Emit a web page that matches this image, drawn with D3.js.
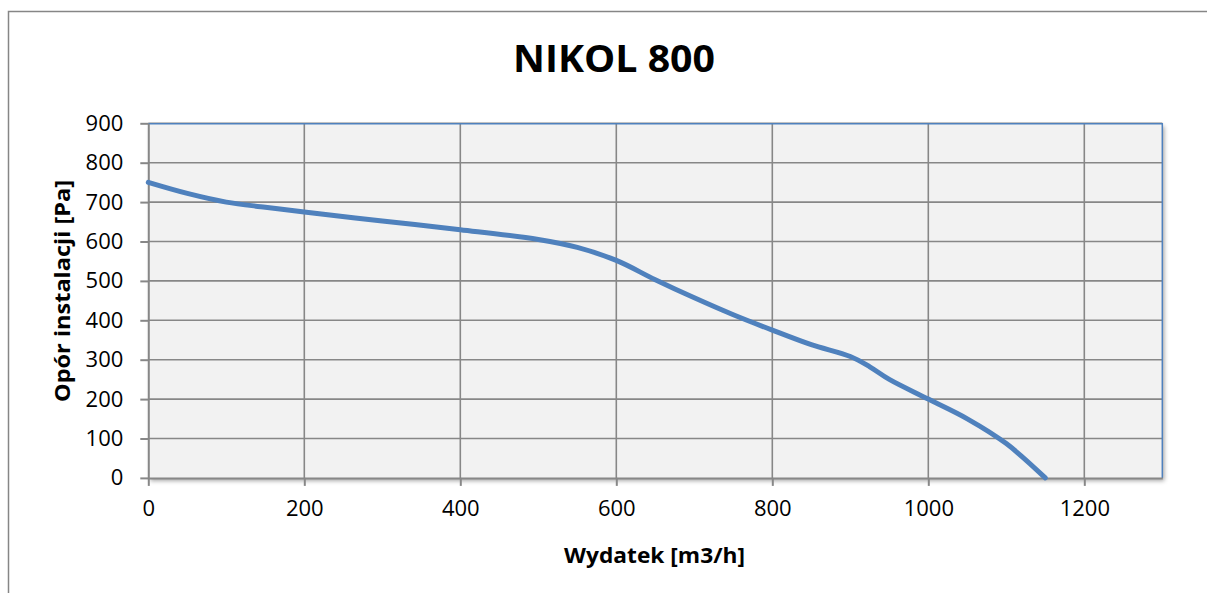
<!DOCTYPE html>
<html>
<head>
<meta charset="utf-8">
<script src="https://cdn.jsdelivr.net/npm/d3@7"></script>
<style>
  body { margin: 0; background: #fff; }
  text { font-family: "Open Sans", sans-serif; fill: #000; }
</style>
</head>
<body>
<div id="chart"></div>
<script>
// data
var flow = [0, 50, 100, 150, 200, 300, 400, 500, 550, 600, 650, 700, 750, 800, 850, 900, 925, 950, 1000, 1050, 1100, 1150];
var pressure = [750, 722, 700, 687, 675, 652, 630, 605, 585, 552, 503, 457, 414, 375, 338, 308, 282, 250, 200, 150, 87, 0];
var xTicks = [0, 200, 400, 600, 800, 1000, 1200];
var yTicks = [0, 100, 200, 300, 400, 500, 600, 700, 800, 900];

var svgWidth = 1207;
var svgHeight = 593;

var margin = { top: 123.3, left: 148.3, right: 44.7, bottom: 115.1 };
var width = svgWidth - margin.left - margin.right;
var height = svgHeight - margin.top - margin.bottom;

var svg = d3.select("#chart")
    .append("svg")
    .attr("width", svgWidth)
    .attr("height", svgHeight);

// shadow for plot area
var defs = svg.append("defs");
var filter = defs.append("filter")
    .attr("id", "shadow")
    .attr("x", "-5%").attr("y", "-5%")
    .attr("width", "110%").attr("height", "115%");
filter.append("feDropShadow")
    .attr("dx", 2).attr("dy", 3)
    .attr("stdDeviation", 2)
    .attr("flood-color", "#000")
    .attr("flood-opacity", 0.35);

// outer border (only left / top visible)
svg.append("path")
    .attr("d", "M8.5,593 V11.5 H1207")
    .attr("fill", "none")
    .attr("stroke", "#868686")
    .attr("stroke-width", 1.5);

var chartGroup = svg.append("g")
    .attr("transform", `translate(${margin.left}, ${margin.top})`);

var xScale = d3.scaleLinear().domain([0, 1300]).range([0, width]);
var yScale = d3.scaleLinear().domain([0, 900]).range([height, 0]);

// plot background
chartGroup.append("rect")
    .attr("width", width)
    .attr("height", height)
    .attr("fill", "#f2f2f2")
    .attr("filter", "url(#shadow)");

// gridlines
chartGroup.append("g")
    .selectAll("line")
    .data(yTicks.slice(1))
    .enter()
    .append("line")
    .attr("x1", 0).attr("x2", width)
    .attr("y1", d => yScale(d)).attr("y2", d => yScale(d))
    .attr("stroke", "#878787")
    .attr("stroke-width", 1.6);

chartGroup.append("g")
    .selectAll("line")
    .data(xTicks.slice(1))
    .enter()
    .append("line")
    .attr("x1", d => xScale(d)).attr("x2", d => xScale(d))
    .attr("y1", 0).attr("y2", height)
    .attr("stroke", "#878787")
    .attr("stroke-width", 1.6);

// top and right border of plot area
chartGroup.append("path")
    .attr("d", `M0,0.5 H${width} V${height}`)
    .attr("fill", "none")
    .attr("stroke", "#4f81bd")
    .attr("stroke-width", 1.5);

// axes
var bottomAxis = d3.axisBottom(xScale)
    .tickValues(xTicks)
    .tickFormat(d3.format("d"))
    .tickSizeInner(8)
    .tickSizeOuter(0)
    .tickPadding(14);

var leftAxis = d3.axisLeft(yScale)
    .tickValues(yTicks)
    .tickFormat(d3.format("d"))
    .tickSizeInner(8)
    .tickSizeOuter(0)
    .tickPadding(17);

var xAxis = chartGroup.append("g")
    .attr("transform", `translate(0, ${height})`)
    .call(bottomAxis);

var yAxis = chartGroup.append("g")
    .call(leftAxis);

[xAxis, yAxis].forEach(function(ax) {
    ax.selectAll("path, line")
        .attr("stroke", "#878787")
        .attr("stroke-width", 2);
    ax.selectAll("text")
        .attr("font-size", "22px")
        .attr("font-family", "Open Sans, sans-serif")
        .attr("fill", "#000");
});

// curve
var line = d3.line()
    .x((d, i) => xScale(flow[i]))
    .y(d => yScale(d))
    .curve(d3.curveCatmullRom);

chartGroup.append("path")
    .datum(pressure)
    .attr("d", line)
    .attr("fill", "none")
    .attr("stroke", "#4f81bd")
    .attr("stroke-width", 5)
    .attr("stroke-linecap", "round")
    .attr("stroke-linejoin", "round");

// titles
svg.append("text")
    .attr("x", 513)
    .attr("y", 72)
    .attr("font-size", "37px")
    .attr("font-weight", "bold")
    .attr("textLength", 202)
    .attr("lengthAdjust", "spacingAndGlyphs")
    .text("NIKOL 800");

svg.append("text")
    .attr("x", 564)
    .attr("y", 563)
    .attr("font-size", "21px")
    .attr("font-weight", "bold")
    .attr("textLength", 181)
    .attr("lengthAdjust", "spacingAndGlyphs")
    .text("Wydatek [m3/h]");

svg.append("text")
    .attr("transform", "translate(70, 402) rotate(-90)")
    .attr("x", 0)
    .attr("y", 0)
    .attr("font-size", "21px")
    .attr("font-weight", "bold")
    .attr("textLength", 222)
    .attr("lengthAdjust", "spacingAndGlyphs")
    .text("Opór instalacji [Pa]");
</script>
</body>
</html>
